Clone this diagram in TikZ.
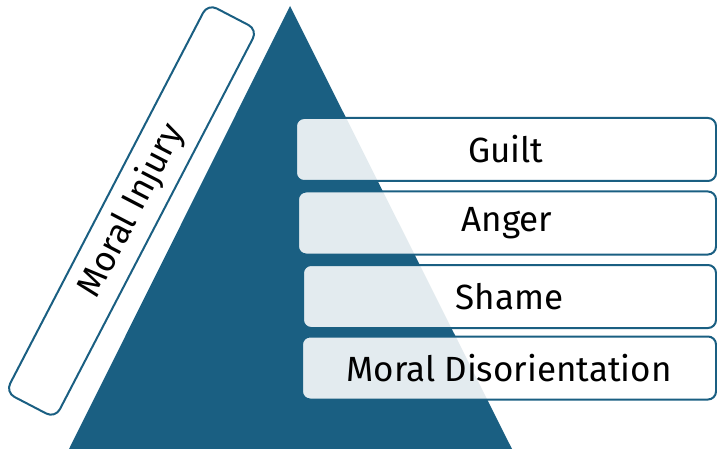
\documentclass[tikz,border=0pt]{standalone}
\usepackage{fontspec}
\setmainfont{Fira Sans}
\usepackage{tikz}
\usetikzlibrary{positioning}

\definecolor{pyrteal}{HTML}{1A5F82}

\begin{document}
\begin{tikzpicture}[
    x=1pt, y=-1pt,
    level/.style={rectangle, rounded corners=8pt, draw=pyrteal, line width=2pt, fill=white, fill opacity=0.88, text opacity=1, minimum height=63pt, font=\fontsize{35}{42}\selectfont},
    sidelabel/.style={rectangle, rounded corners=10pt, draw=pyrteal, line width=2pt, fill=white, minimum width=438pt, minimum height=56pt, font=\fontsize{35}{42}\selectfont}
]
\useasboundingbox (0,0) rectangle (717,449);

% Pyramid
\coordinate (apex) at (290,6);
\coordinate (baseL) at (69,449);
\coordinate (baseR) at (512,449);
\fill[pyrteal] (baseL) -- (apex) -- (baseR) -- cycle;

% Side label along the left edge
\node[sidelabel, rotate=62.5] (injury) at (131.5,211) {Moral Injury};

% Levels
\node[level, minimum width=420pt] (guilt) at (506,149.5) {Guilt};
\node[level, minimum width=418pt] (anger) at (507,223) {Anger};
\node[level, minimum width=413pt] (shame) at (509.5,296.5) {Shame};
\node[level, minimum width=414pt] (disorient) at (509,368) {Moral Disorientation};

\end{tikzpicture}
\end{document}
